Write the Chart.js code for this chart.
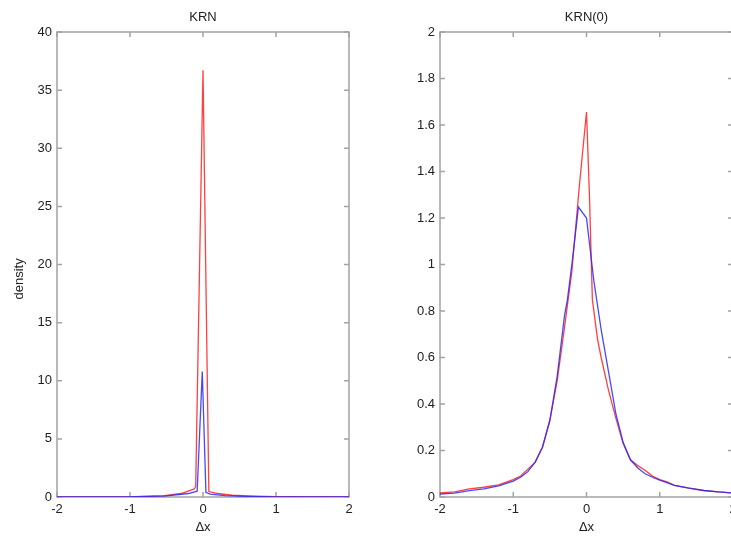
<!DOCTYPE html>
<html>
<head>
<meta charset="utf-8">
<script src="https://cdn.jsdelivr.net/npm/chart.js@4.4.1/dist/chart.umd.min.js"></script>
<style>
  html, body { margin: 0; padding: 0; background: #fff; overflow: hidden; }
  #wrap { position: relative; width: 731px; height: 536px; overflow: hidden; }
  canvas { position: absolute; top: 0; }
</style>
</head>
<body>
<div id="wrap">
  <canvas id="krn" width="380" height="536" style="left:0"></canvas>
  <canvas id="krn0" width="380" height="536" style="left:380px"></canvas>
</div>
<script>
// Panel izquierdo: KRN
const krnRojoX = [-2, -1, -0.55, -0.3, -0.12, -0.1, 0, 0.08, 0.1, 0.2, 0.4, 0.7, 1, 2];
const krnRojoY = [0, 0.01, 0.09, 0.3, 0.69, 0.9, 36.7, 0.5, 0.45, 0.3, 0.15, 0.07, 0.03, 0];
const krnAzulX = [-2, -1, -0.95, -0.5, -0.2, -0.08, -0.01, 0.04, 0.1, 0.3, 0.6, 1, 2];
const krnAzulY = [0, 0, 0.02, 0.1, 0.3, 0.5, 10.8, 0.4, 0.25, 0.12, 0.05, 0.01, 0];

// Panel derecho: KRN(0)
const krn0RojoX = [-2, -1.8, -1.6, -1.4, -1.2, -1, -0.9, -0.8, -0.7, -0.6, -0.5, -0.4, -0.3, -0.2, -0.1, 0,
                   0.04, 0.08, 0.15, 0.2, 0.3, 0.4, 0.5, 0.6, 0.7, 0.8, 0.9, 1, 1.1, 1.2, 1.4, 1.6, 1.8, 2];
const krn0RojoY = [0.018, 0.022, 0.035, 0.042, 0.052, 0.075, 0.09, 0.12, 0.15, 0.215, 0.33, 0.5, 0.73, 0.97, 1.33, 1.656,
                   1.3, 0.85, 0.68, 0.6, 0.46, 0.34, 0.23, 0.16, 0.135, 0.115, 0.09, 0.075, 0.065, 0.05, 0.038, 0.028, 0.022, 0.018];
const krn0AzulX = [-2, -1.8, -1.6, -1.4, -1.2, -1, -0.9, -0.8, -0.7, -0.6, -0.5, -0.4, -0.3, -0.26, -0.2, -0.11, 0,
                   0.1, 0.2, 0.3, 0.4, 0.5, 0.6, 0.7, 0.8, 0.9, 1, 1.2, 1.4, 1.6, 1.8, 2];
const krn0AzulY = [0.013, 0.017, 0.027, 0.035, 0.048, 0.068, 0.085, 0.11, 0.15, 0.215, 0.33, 0.52, 0.78, 0.85, 1.0, 1.247, 1.2,
                   0.93, 0.72, 0.54, 0.36, 0.235, 0.16, 0.125, 0.1, 0.085, 0.073, 0.05, 0.038, 0.028, 0.022, 0.017];

const ticksX = [-2, -1, 0, 1, 2];
const ticksKrn = [0, 5, 10, 15, 20, 25, 30, 35, 40];
const ticksKrn0 = [0, 0.2, 0.4, 0.6, 0.8, 1, 1.2, 1.4, 1.6, 1.8, 2];

const fuente = { family: '"Liberation Sans", Arial, sans-serif', size: 13 };
const colorTexto = '#222';

function puntos(xs, ys) {
  return xs.map((x, i) => ({ x: x, y: ys[i] }));
}

// marco gris con marcas hacia dentro (estilo MATLAB)
const marco = {
  id: 'marco',
  beforeDatasetsDraw(chart) {
    const { ctx, chartArea: a, scales } = chart;
    ctx.save();
    ctx.strokeStyle = '#a3a3a3';
    ctx.lineWidth = 1.5;
    ctx.strokeRect(a.left, a.top, a.right - a.left, a.bottom - a.top);
    ctx.beginPath();
    scales.x.ticks.forEach(t => {
      const px = scales.x.getPixelForValue(t.value);
      ctx.moveTo(px, a.bottom); ctx.lineTo(px, a.bottom - 5);
      ctx.moveTo(px, a.top); ctx.lineTo(px, a.top + 5);
    });
    scales.y.ticks.forEach(t => {
      const py = scales.y.getPixelForValue(t.value);
      ctx.moveTo(a.left, py); ctx.lineTo(a.left + 5, py);
      ctx.moveTo(a.right, py); ctx.lineTo(a.right - 5, py);
    });
    ctx.stroke();
    ctx.restore();
  }
};

function crearPanel(id, titulo, rojo, azul, yMax, yTicks, anchoY, padDer, tituloY) {
  const ctx = document.getElementById(id).getContext('2d');
  return new Chart(ctx, {
    type: 'line',
    data: {
      datasets: [
        { data: azul, borderColor: 'rgba(40,40,255,0.85)', borderWidth: 1.3, pointRadius: 0, tension: 0 },
        { data: rojo, borderColor: 'rgba(255,30,30,0.85)', borderWidth: 1.3, pointRadius: 0, tension: 0 }
      ]
    },
    options: {
      responsive: false,
      animation: false,
      layout: { padding: { left: 0, right: padDer, top: 0, bottom: 0 } },
      plugins: {
        legend: { display: false },
        tooltip: { enabled: false },
        title: {
          display: true,
          text: titulo,
          fullSize: false,
          color: colorTexto,
          font: { family: fuente.family, size: 13, weight: 'normal' },
          padding: { top: 10, bottom: 6.4 }
        }
      },
      scales: {
        x: {
          type: 'linear',
          min: -2, max: 2,
          afterBuildTicks: s => { s.ticks = ticksX.map(v => ({ value: v })); },
          afterFit: s => { s.height = 39; },
          grid: { display: false, drawTicks: false },
          border: { display: false },
          ticks: { color: colorTexto, font: fuente, padding: 5, maxRotation: 0, callback: v => String(v) },
          title: { display: true, text: 'Δx', color: colorTexto, font: fuente, padding: { top: 0, bottom: 1 } }
        },
        y: {
          min: 0, max: yMax,
          afterBuildTicks: s => { s.ticks = yTicks.map(v => ({ value: v })); },
          afterFit: s => { s.width = anchoY; },
          grid: { display: false, drawTicks: false },
          border: { display: false },
          ticks: { color: colorTexto, font: fuente, padding: 5, callback: v => String(v) },
          title: { display: !!tituloY, text: tituloY || '', color: colorTexto, font: fuente, padding: { top: 12, bottom: 0 } }
        }
      }
    },
    plugins: [marco]
  });
}

// espacios finales para bajar un poco la etiqueta rotada, como en el original
crearPanel('krn', 'KRN', puntos(krnRojoX, krnRojoY), puntos(krnAzulX, krnAzulY), 40, ticksKrn, 57, 31,
           'density' + '\u00a0'.repeat(8));
crearPanel('krn0', 'KRN(0)', puntos(krn0RojoX, krn0RojoY), puntos(krn0AzulX, krn0AzulY), 2, ticksKrn0, 60, 27, null);
</script>
</body>
</html>
